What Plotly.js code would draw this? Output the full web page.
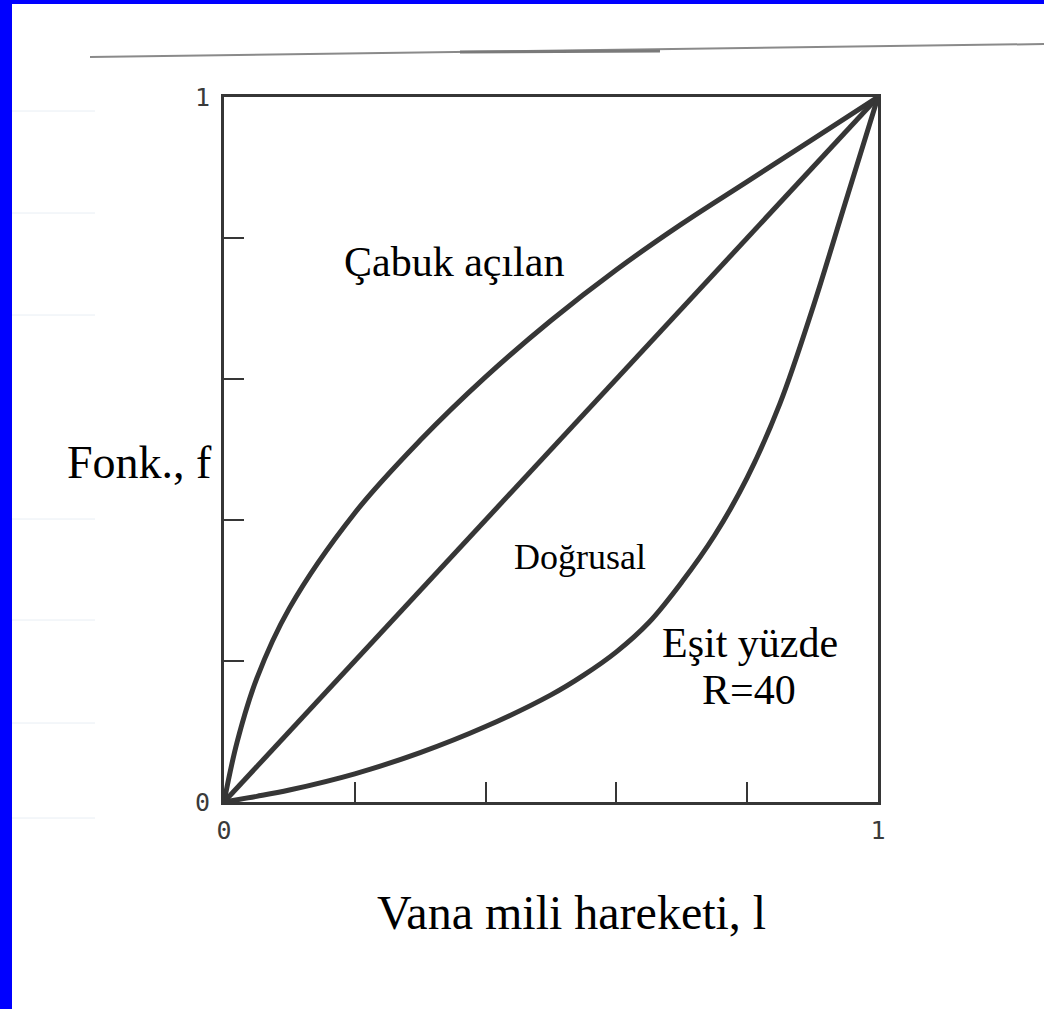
<!DOCTYPE html>
<html>
<head>
<meta charset="utf-8">
<script src="https://cdn.plot.ly/plotly-3.0.1.min.js"></script>
<style>
  html, body { margin: 0; padding: 0; background: #ffffff; }
  #wrap { position: relative; width: 1044px; height: 1009px; overflow: hidden; background: #ffffff; }
  #chart { position: absolute; left: 0; top: 0; width: 1044px; height: 1009px; }
  .edge-left { position: absolute; left: 0; top: 0; width: 12px; height: 1009px; background: #0000ff; }
  .edge-top { position: absolute; left: 0; top: 0; width: 1044px; height: 4px; background: #0000ff; }
</style>
</head>
<body>
<div id="wrap">
  <div id="chart"></div>
  <div class="edge-left"></div>
  <div class="edge-top"></div>
</div>
<script>
// Valve stem travel (fraction of full lift) and the inherent flow characteristic f
const liftQuick = [0, 0.02, 0.05, 0.1, 0.2, 0.3, 0.4, 0.5, 0.6, 0.7, 0.8, 0.9, 1];
const flowQuick = [0, 0.085, 0.175, 0.275, 0.41, 0.513, 0.603, 0.683, 0.755, 0.82, 0.88, 0.94, 1];

const liftLinear = [0, 1];
const flowLinear = [0, 1];

const liftEqual = [0, 0.05, 0.1, 0.2, 0.3, 0.4, 0.5, 0.55, 0.6, 0.65, 0.7, 0.75, 0.8, 0.85, 0.9, 0.95, 1];
const flowEqual = [0, 0.008, 0.017, 0.04, 0.07, 0.107, 0.152, 0.18, 0.213, 0.255, 0.312, 0.378, 0.46, 0.565, 0.70, 0.85, 1];

const tickPositions = [0, 0.2, 0.4, 0.6, 0.8, 1];
const tickLabels = ['0', '', '', '', '', '1'];

const curveLabels = ['Çabuk açılan', 'Doğrusal', 'Eşit yüzde', 'R=40'];
const axisLabelY = 'Fonk., f';
const axisLabelX = 'Vana mili hareketi, l';

const ink = '#363636';
const serif = '"Liberation Serif", "Times New Roman", serif';
const mono = '"DejaVu Sans Mono", "Liberation Mono", monospace';

const curveLine = { color: ink, width: 5, shape: 'spline', smoothing: 1 };

const traces = [
  { x: liftQuick, y: flowQuick, mode: 'lines', line: curveLine, hoverinfo: 'skip' },
  { x: liftLinear, y: flowLinear, mode: 'lines', line: { color: ink, width: 5 }, hoverinfo: 'skip' },
  { x: liftEqual, y: flowEqual, mode: 'lines', line: curveLine, hoverinfo: 'skip' }
];

const axisCommon = {
  range: [0, 1],
  tickmode: 'array',
  tickvals: tickPositions,
  ticktext: tickLabels,
  ticks: 'inside',
  ticklen: 20,
  tickwidth: 2,
  tickcolor: ink,
  showline: true,
  linecolor: ink,
  linewidth: 3,
  mirror: true,
  showgrid: false,
  zeroline: false,
  fixedrange: true,
  tickfont: { family: mono, size: 25, color: '#3a3a3a' }
};

// faint ruled lines of the notebook page at the left margin
const ruleY = [111, 213, 315, 519, 620, 723, 818];
const pageRules = ruleY.map(function (py) {
  return { type: 'line', xref: 'paper', yref: 'paper',
    x0: (12 - 224) / 654, x1: (95 - 224) / 654,
    y0: (802 - py) / 705, y1: (802 - py) / 705,
    line: { color: '#e8eef4', width: 1 } };
});

const layout = {
  width: 1044,
  height: 1009,
  margin: { l: 224, r: 166, t: 97, b: 207 },
  paper_bgcolor: '#ffffff',
  plot_bgcolor: '#ffffff',
  showlegend: false,
  xaxis: Object.assign({}, axisCommon, { ticklabelstandoff: 4 }),
  yaxis: Object.assign({}, axisCommon, { ticklabelstandoff: 6 }),
  shapes: [
    // edge of the scanned sheet above the chart
    { type: 'line', xref: 'paper', yref: 'paper',
      x0: (90 - 224) / 654, y0: (802 - 57) / 705, x1: (1044 - 224) / 654, y1: (802 - 44) / 705,
      line: { color: '#8a8a8a', width: 2 } },
    { type: 'line', xref: 'paper', yref: 'paper',
      x0: (460 - 224) / 654, y0: (802 - 52) / 705, x1: (660 - 224) / 654, y1: (802 - 51) / 705,
      line: { color: '#7a7a7a', width: 3 } }
  ].concat(pageRules),
  annotations: [
    { x: 0.352, y: 0.766, xref: 'x', yref: 'y', text: curveLabels[0], showarrow: false,
      xanchor: 'center', yanchor: 'middle',
      font: { family: serif, size: 42, color: '#000000' } },
    { x: 0.544, y: 0.3475, xref: 'x', yref: 'y', text: curveLabels[1], showarrow: false,
      xanchor: 'center', yanchor: 'middle',
      font: { family: serif, size: 36, color: '#000000' } },
    { x: 0.804, y: 0.2255, xref: 'x', yref: 'y', text: curveLabels[2], showarrow: false,
      xanchor: 'center', yanchor: 'middle',
      font: { family: serif, size: 42, color: '#000000' } },
    { x: 0.803, y: 0.159, xref: 'x', yref: 'y', text: curveLabels[3], showarrow: false,
      xanchor: 'center', yanchor: 'middle',
      font: { family: serif, size: 42, color: '#000000' } },
    { x: (139 - 224) / 654, y: (802 - 462) / 705, xref: 'paper', yref: 'paper', text: axisLabelY,
      showarrow: false, xanchor: 'center', yanchor: 'middle',
      font: { family: serif, size: 46, color: '#000000' } },
    { x: (571 - 224) / 654, y: (802 - 913) / 705, xref: 'paper', yref: 'paper', text: axisLabelX,
      showarrow: false, xanchor: 'center', yanchor: 'middle',
      font: { family: serif, size: 48, color: '#000000' } }
  ]
};

Plotly.newPlot('chart', traces, layout, { staticPlot: true, displayModeBar: false });
</script>
</body>
</html>
